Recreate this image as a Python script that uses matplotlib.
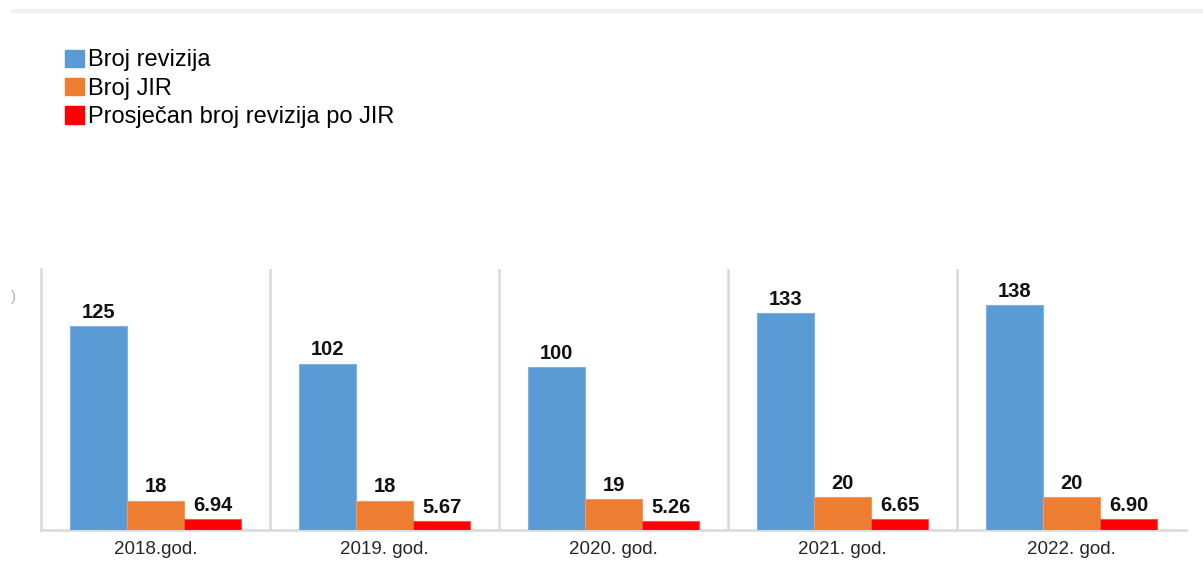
import numpy as np
import matplotlib.pyplot as plt
from matplotlib.patches import Patch
from matplotlib.lines import Line2D

years = ["2018.god.", "2019. god.", "2020. god.", "2021. god.", "2022. god."]
broj_revizija = [125, 102, 100, 133, 138]
broj_jir = [18, 18, 19, 20, 20]
prosjek = [6.94, 5.67, 5.26, 6.65, 6.90]

series_names = ["Broj revizija", "Broj JIR", "Prosječan broj revizija po JIR"]
colors = ["#5B9BD5", "#ED7D31", "#FF0000"]
edge_colors = ["#7FB2E0", "#F29A5E", "#FF5050"]
label_fmt = ["{:.0f}", "{:.0f}", "{:.2f}"]

plt.rcParams['font.family'] = ['Liberation Sans', 'DejaVu Sans']

fig = plt.figure(figsize=(12.03, 5.8), dpi=100)
ax = fig.add_axes([41 / 1203, 50 / 580, (1186 - 41) / 1203, 261 / 580])

x = np.arange(len(years))
w = 0.25
all_series = [broj_revizija, broj_jir, prosjek]
for i, (vals, c) in enumerate(zip(all_series, colors)):
    bars = ax.bar(x + (i - 1) * w, vals, w, color=c, edgecolor=edge_colors[i], linewidth=0.8, zorder=3)
    for b, v in zip(bars, vals):
        ax.annotate(label_fmt[i].format(v), (b.get_x() + b.get_width() / 2, v),
                    xytext=(0, 3), textcoords="offset points", ha="center", va="bottom",
                    fontsize=14.5, fontweight="bold", color="#111111")

ax.set_xlim(-0.5, len(years) - 0.5)
ax.set_ylim(0, 160)
ax.set_xticks(x)
ax.set_xticklabels(years, fontsize=13.5, color="#262626")
ax.tick_params(axis="x", length=0, pad=8)
ax.set_yticks([])

# vertical separators between groups
for sep in np.arange(0.5, len(years) - 1, 1.0):
    ax.axvline(sep, color="#d9d9d9", linewidth=1.8, zorder=1)

for s in ["top", "right"]:
    ax.spines[s].set_visible(False)
ax.spines["left"].set_color("#d9d9d9")
ax.spines["left"].set_linewidth(1.8)
ax.spines["bottom"].set_color("#d9d9d9")
ax.spines["bottom"].set_linewidth(1.8)

handles = [Patch(facecolor=c, edgecolor=c) for c in colors]
fig.legend(handles, series_names, loc="upper left", bbox_to_anchor=(56 / 1203, 1 - 40 / 580),
           frameon=False, fontsize=17, handlelength=0.8, handleheight=0.75,
           handletextpad=0.17, labelspacing=0.27, borderaxespad=0)

# faint line along the top edge
fig.add_artist(Line2D([13 / 1203, 1.0], [1 - 11 / 580, 1 - 11 / 580], color="#f0f0f0",
                      linewidth=3, transform=fig.transFigure))
# cut-off fragment at the left edge
fig.text(11 / 1203, 1 - 297 / 580, ")", fontsize=11, color="#b0b0b0", ha="left", va="center")

fig.savefig("out.png", dpi=100)
